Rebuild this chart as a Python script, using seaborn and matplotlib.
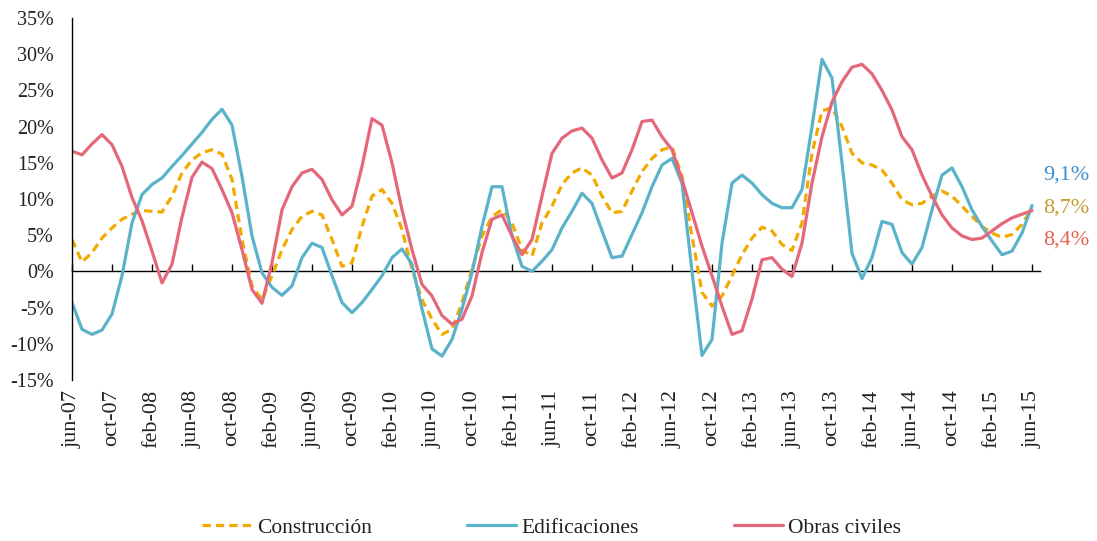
import matplotlib

matplotlib.use("Agg")

import matplotlib.pyplot as plt
import numpy as np
import pandas as pd
import seaborn as sns

sns.set_theme(style="white")
plt.rcParams["font.family"] = ["Liberation Serif", "DejaVu Serif"]

# monthly growth rates, jun-07 .. jun-15 (97 months)
construccion = [
    4.4, 1.3, 2.6, 4.6, 6.0, 7.2, 7.9, 8.4, 8.3, 8.2, 10.4, 13.6,
    15.4, 16.4, 16.8, 16.2, 12.7, 4.4, -2.0, -3.9, -0.6, 3.0, 5.8, 7.6,
    8.3, 7.8, 4.4, 0.7, 1.2, 6.2, 10.4, 11.3, 9.4, 5.8, 0.3, -3.9,
    -6.6, -8.7, -8.0, -4.3, 0.3, 4.9, 7.6, 8.5, 6.7, 3.0, 2.1, 6.7,
    9.0, 12.0, 13.6, 14.3, 13.3, 10.4, 8.1, 8.3, 11.1, 13.8, 15.6, 16.8,
    17.2, 13.1, 4.9, -2.9, -4.8, -3.4, -0.6, 2.3, 4.6, 6.1, 5.6, 3.7,
    2.9, 6.7, 16.3, 22.2, 22.6, 20.0, 16.3, 15.0, 14.7, 14.0, 12.2, 9.9,
    9.2, 9.4, 10.4, 11.1, 10.4, 9.0, 7.6, 6.2, 5.3, 4.7, 5.1, 6.5,
    8.7,
]
edificaciones = [
    -4.3, -8.0, -8.7, -8.1, -5.9, -0.6, 6.7, 10.6, 12.0, 12.9, 14.5, 16.0,
    17.6, 19.2, 21.0, 22.4, 20.2, 13.1, 4.9, -0.2, -2.2, -3.3, -2.0, 1.9,
    3.9, 3.3, -0.6, -4.3, -5.7, -4.3, -2.5, -0.6, 1.9, 3.1, 1.0, -5.2,
    -10.7, -11.7, -9.4, -5.2, -0.2, 6.2, 11.7, 11.7, 4.9, 0.7, 0.0, 1.4,
    3.0, 6.0, 8.3, 10.8, 9.4, 5.6, 1.9, 2.1, 5.1, 8.1, 11.7, 14.7,
    15.6, 12.2, 0.0, -11.6, -9.4, 3.9, 12.2, 13.3, 12.2, 10.6, 9.4, 8.8,
    8.8, 11.3, 20.0, 29.3, 26.7, 15.0, 2.5, -1.0, 1.9, 6.9, 6.5, 2.6,
    1.0, 3.3, 8.5, 13.3, 14.3, 11.7, 8.5, 6.2, 4.2, 2.3, 2.8, 5.3,
    9.1,
]
obras_civiles = [
    16.6, 16.1, 17.6, 18.9, 17.5, 14.5, 10.2, 7.0, 2.8, -1.6, 1.0, 7.5,
    13.0, 15.1, 14.2, 11.3, 8.1, 3.0, -2.5, -4.4, 1.2, 8.5, 11.7, 13.6,
    14.1, 12.7, 9.9, 7.8, 9.0, 14.5, 21.1, 20.2, 15.0, 8.5, 3.0, -1.8,
    -3.4, -6.1, -7.3, -6.6, -3.4, 2.6, 7.2, 7.8, 4.9, 2.3, 4.4, 10.4,
    16.3, 18.4, 19.4, 19.8, 18.4, 15.4, 12.9, 13.6, 16.8, 20.7, 20.9, 18.6,
    16.8, 12.7, 8.1, 3.5, -0.6, -4.8, -8.7, -8.2, -3.8, 1.6, 1.9, 0.3,
    -0.7, 3.9, 12.2, 18.6, 23.4, 26.2, 28.2, 28.6, 27.3, 25.0, 22.3, 18.6,
    16.8, 13.3, 10.4, 7.8, 6.0, 4.9, 4.4, 4.6, 5.6, 6.6, 7.4, 7.9,
    8.4,
]
tick_labels = [
    "jun-07", "oct-07", "feb-08", "jun-08", "oct-08", "feb-09", "jun-09",
    "oct-09", "feb-10", "jun-10", "oct-10", "feb-11", "jun-11", "oct-11",
    "feb-12", "jun-12", "oct-12", "feb-13", "jun-13", "oct-13", "feb-14",
    "jun-14", "oct-14", "feb-15", "jun-15",
]
end_labels = ["9,1%", "8,7%", "8,4%"]
y_ticks = [-15, -10, -5, 0, 5, 10, 15, 20, 25, 30, 35]

series = {
    "Construcción": construccion,
    "Edificaciones": edificaciones,
    "Obras civiles": obras_civiles,
}
frames = []
for name, vals in series.items():
    frames.append(pd.DataFrame({"mes": np.arange(len(vals)), "valor": vals, "serie": name}))
df = pd.concat(frames, ignore_index=True)

colors = {"Construcción": "#F2A900", "Edificaciones": "#5BB3CB", "Obras civiles": "#E5677A"}
dashes = {"Construcción": (2.6, 1.6), "Edificaciones": "", "Obras civiles": ""}

fig = plt.figure(figsize=(10.97, 5.41), dpi=100)
ax = fig.add_axes([72 / 1097, 161 / 541, 968 / 1097, 362 / 541])

sns.lineplot(data=df, x="mes", y="valor", hue="serie", style="serie",
             palette=colors, dashes=dashes, linewidth=2.3, ax=ax)
for line in ax.lines:
    line.set_solid_joinstyle("round")
    line.set_dash_joinstyle("round")

ax.set_xlim(0, 96.8)
ax.set_ylim(-15, 35)
ax.set_xlabel("")
ax.set_ylabel("")

ax.set_yticks(y_ticks)
ax.set_yticklabels([f"{v}%" for v in y_ticks], fontsize=14.5, color="#222222")
ax.tick_params(axis="y", direction="in", length=5, width=1, color="black", pad=13)

xt = np.arange(0, len(construccion), 4)
ax.set_xticks(xt)
ax.set_xticklabels(tick_labels, rotation=90, fontsize=16, color="#222222")
ax.tick_params(axis="x", length=0, pad=7)

for s in ["top", "right", "bottom"]:
    ax.spines[s].set_visible(False)
ax.spines["left"].set_color("black")
ax.spines["left"].set_linewidth(1)

# horizontal axis line at 0 with upward ticks
sec = ax.secondary_xaxis(15 / 50)
sec.set_xticks(xt)
sec.tick_params(axis="x", direction="in", length=5, width=1, color="black", labelbottom=False)
sec.spines["bottom"].set_color("black")
sec.spines["bottom"].set_linewidth(1)

# end value labels
label_colors = ["#3A8FD2", "#C49B2C", "#E8604E"]
offsets = [22, 0, -21]
last = len(construccion) - 1
for txt, val, c, dy in zip(end_labels, [edificaciones[-1], construccion[-1], obras_civiles[-1]],
                           label_colors, offsets):
    ax.annotate(txt, xy=(last, val), xytext=(8, dy), textcoords="offset points",
                ha="left", va="center", fontsize=16, color=c, annotation_clip=False)

h, l = ax.get_legend_handles_labels()
ax.get_legend().remove()
fig.legend(h, l, loc="center", bbox_to_anchor=(0.503, 0.025), ncol=3, frameon=False,
           fontsize=15.5, handlelength=2.3, columnspacing=4.4, handletextpad=0.25,
           labelcolor="#222222")

fig.savefig("out.png", dpi=100, facecolor="white")
